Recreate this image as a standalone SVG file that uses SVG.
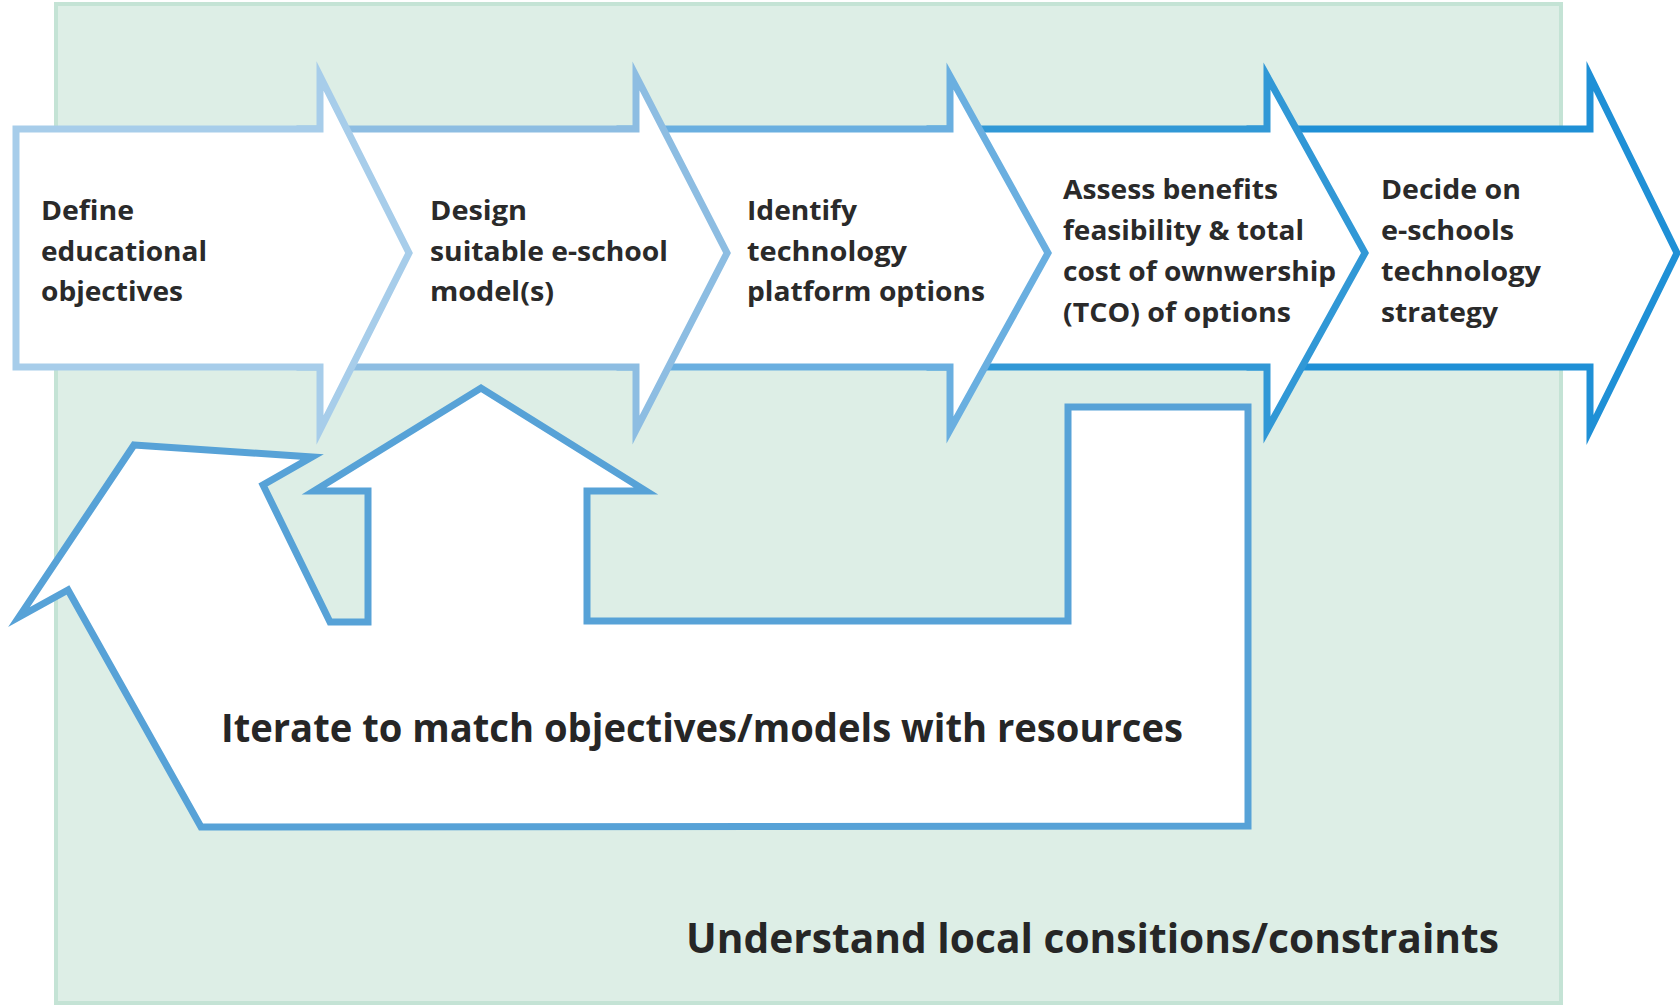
<svg xmlns="http://www.w3.org/2000/svg" width="1680" height="1006" viewBox="0 0 1680 1006">
<style>
.bg{fill:#ddeee6;stroke:#c4e3d5;stroke-width:4}
.arr{fill:#ffffff;stroke-width:7;stroke-linejoin:miter;stroke-miterlimit:10}
.lbl{font-family:"Open Sans","Liberation Sans",sans-serif;font-weight:700;font-size:26px;fill:#2a2a2a}
.big{font-family:"Open Sans","Liberation Sans",sans-serif;font-weight:700;fill:#262626}
</style>
<rect class="bg" x="56" y="4" width="1505" height="999"/>
<g id="connectors">
<polygon id="iterate-arrow" class="arr" stroke="#57a2d7" points="134,445 312,457 263,485 330,622 368,622 368,491 314,491 481,388 646,491 587,491 587,621 1068,621 1068,407 1248,407 1248,826 201,827 68,590 19,617"/>
</g>
<g id="step5">
<polygon class="arr" stroke="#1f90d6" points="1250,129 1590,129 1590,76 1677,253 1590,430 1590,367 1250,367"/>
<text class="lbl" x="1381" y="199" textLength="140" lengthAdjust="spacingAndGlyphs">Decide on</text>
<text class="lbl" x="1381" y="240" textLength="133" lengthAdjust="spacingAndGlyphs">e-schools</text>
<text class="lbl" x="1381" y="281" textLength="160" lengthAdjust="spacingAndGlyphs">technology</text>
<text class="lbl" x="1381" y="322" textLength="117" lengthAdjust="spacingAndGlyphs">strategy</text>
</g>
<g id="step4">
<polygon class="arr" stroke="#3198d6" points="930,129 1267,129 1267,76 1365,253 1267,430 1267,367 930,367"/>
<text class="lbl" x="1063" y="199" textLength="215" lengthAdjust="spacingAndGlyphs">Assess benefits</text>
<text class="lbl" x="1063" y="240" textLength="241" lengthAdjust="spacingAndGlyphs">feasibility &amp; total</text>
<text class="lbl" x="1063" y="281" textLength="273" lengthAdjust="spacingAndGlyphs">cost of ownwership</text>
<text class="lbl" x="1063" y="322" textLength="228" lengthAdjust="spacingAndGlyphs">(TCO) of options</text>
</g>
<g id="step3">
<polygon class="arr" stroke="#6aafe0" points="620,129 950,129 950,76 1048,253 950,430 950,367 620,367"/>
<text class="lbl" x="747" y="220" textLength="110" lengthAdjust="spacingAndGlyphs">Identify</text>
<text class="lbl" x="747" y="261" textLength="160" lengthAdjust="spacingAndGlyphs">technology</text>
<text class="lbl" x="747" y="301" textLength="238" lengthAdjust="spacingAndGlyphs">platform options</text>
</g>
<g id="step2">
<polygon class="arr" stroke="#8dbde2" points="300,129 636,129 636,76 727,253 636,430 636,367 300,367"/>
<text class="lbl" x="430" y="220" textLength="97" lengthAdjust="spacingAndGlyphs">Design</text>
<text class="lbl" x="430" y="261" textLength="238" lengthAdjust="spacingAndGlyphs">suitable e-school</text>
<text class="lbl" x="430" y="301" textLength="124" lengthAdjust="spacingAndGlyphs">model(s)</text>
</g>
<g id="step1">
<polygon class="arr" stroke="#a7cdea" points="16,129 320,129 320,76 409,253 320,430 320,367 16,367"/>
<text class="lbl" x="41" y="220" textLength="93" lengthAdjust="spacingAndGlyphs">Define</text>
<text class="lbl" x="41" y="261" textLength="166" lengthAdjust="spacingAndGlyphs">educational</text>
<text class="lbl" x="41" y="301" textLength="142" lengthAdjust="spacingAndGlyphs">objectives</text>
</g>
<g id="iterate-label">
<text class="big" x="221" y="742" font-size="39" textLength="962" lengthAdjust="spacingAndGlyphs">Iterate to match objectives/models with resources</text>
</g>
<g id="context-label">
<text class="big" x="686" y="953" font-size="42" font-weight="600" textLength="813" lengthAdjust="spacingAndGlyphs">Understand local consitions/constraints</text>
</g>
</svg>
